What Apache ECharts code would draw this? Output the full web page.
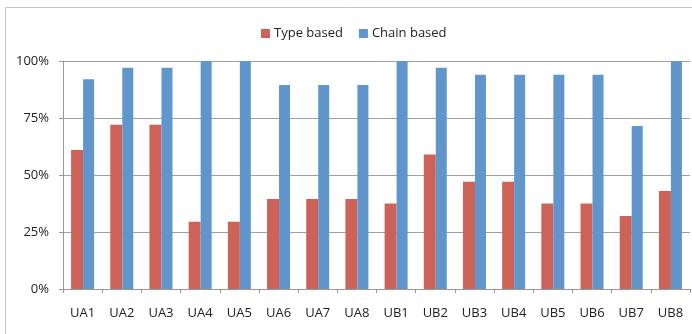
<!DOCTYPE html>
<html>
<head>
<meta charset="utf-8">
<script src="https://cdn.jsdelivr.net/npm/echarts@6/dist/echarts.min.js"></script>
<style>html,body{margin:0;padding:0;background:#fff}#c{width:692px;height:334px}</style>
</head>
<body>
<div id="c"></div>
<script>
var categories = ['UA1','UA2','UA3','UA4','UA5','UA6','UA7','UA8','UB1','UB2','UB3','UB4','UB5','UB6','UB7','UB8'];
var typeBased = [61, 72, 72, 29.5, 29.5, 39.5, 39.5, 39.5, 37.5, 59, 47, 47, 37.5, 37.5, 32, 43];
var chainBased = [92, 97, 97, 100, 100, 89.5, 89.5, 89.5, 100, 97, 94, 94, 94, 94, 71.5, 100];
var yTicks = [0, 25, 50, 75, 100];

var chart = echarts.init(document.getElementById('c'));
var font = 'Open Sans';
chart.setOption({
  animation: false,
  textStyle: {fontFamily: font},
  graphic: [{
    type: 'rect', shape: {x: 5.5, y: 7.5, width: 720, height: 360},
    style: {fill: 'none', stroke: '#c4c4c4', lineWidth: 1}, silent: true
  }],
  legend: {
    left: 256, top: 22, itemWidth: 9, itemHeight: 9, itemGap: 16,
    icon: 'rect',
    textStyle: {fontFamily: font, fontSize: 13, color: '#222', padding: [0,0,0,-1]},
    data: ['Type based', 'Chain based']
  },
  grid: {left: 63, right: 2, top: 61, bottom: 45, containLabel: false},
  xAxis: {
    type: 'category', data: categories,
    axisLine: {lineStyle: {color: '#999'}},
    axisTick: {show: true, length: 4, lineStyle: {color: '#999'}},
    axisLabel: {fontFamily: font, fontSize: 13, color: '#222', margin: 18}
  },
  yAxis: {
    type: 'value', min: yTicks[0], max: yTicks[yTicks.length-1], interval: 25,
    axisLine: {show: true, lineStyle: {color: '#999'}},
    axisTick: {show: true, length: 4, lineStyle: {color: '#999'}},
    splitLine: {lineStyle: {color: '#a0a0a0'}},
    axisLabel: {fontFamily: font, fontSize: 13, color: '#222', margin: 14,
      formatter: function(v){ return v + '%'; }}
  },
  series: [
    {name: 'Type based', type: 'bar', data: typeBased, barWidth: 12, barGap: '0%',
     itemStyle: {color: '#cd6259'}},
    {name: 'Chain based', type: 'bar', data: chainBased, barWidth: 11, barGap: '0%',
     itemStyle: {color: '#6096cc'}}
  ]
});
</script>
</body>
</html>
